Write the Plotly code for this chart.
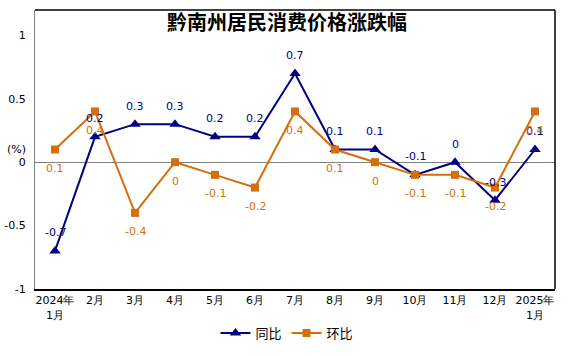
import plotly.graph_objects as go

categories = ["2024年<br>1月", "2月", "3月", "4月", "5月", "6月", "7月", "8月", "9月", "10月", "11月", "12月", "2025年<br>1月"]
tongbi = [-0.7, 0.2, 0.3, 0.3, 0.2, 0.2, 0.7, 0.1, 0.1, -0.1, 0, -0.3, 0.1]
huanbi = [0.1, 0.4, -0.4, 0, -0.1, -0.2, 0.4, 0.1, 0, -0.1, -0.1, -0.2, 0.4]
y_ticks = [-1, -0.5, 0, 0.5, 1]
y_ticklabels = ["-1", "-0.5", "0", "0.5", "1"]

BLUE = "#000080"
ORANGE = "#D46F0C"
FONT = "DejaVu Sans"

fig = go.Figure()
fig.add_trace(go.Scatter(
    x=categories, y=tongbi, name="同比", mode="lines+markers",
    line=dict(color=BLUE, width=2),
    marker=dict(symbol="triangle-up", size=10, color=BLUE),
))
fig.add_trace(go.Scatter(
    x=categories, y=huanbi, name="环比", mode="lines+markers",
    line=dict(color=ORANGE, width=2),
    marker=dict(symbol="square", size=8, color=ORANGE),
))

def fmt(v):
    return "0" if v == 0 else ("%g" % v)

for c, v in zip(categories, tongbi):
    fig.add_annotation(x=c, y=v, text=fmt(v), showarrow=False, yshift=18,
                       font=dict(family=FONT, size=11, color=BLUE))
for c, v in zip(categories, huanbi):
    fig.add_annotation(x=c, y=v, text=fmt(v), showarrow=False, yshift=-19,
                       font=dict(family=FONT, size=11, color=ORANGE))

fig.add_annotation(text="<b>黔南州居民消费价格涨跌幅</b>", xref="paper", yref="paper",
                   x=0.485, y=1 - 12 / 279, showarrow=False, xanchor="center", yanchor="middle",
                   font=dict(family="Noto Sans CJK SC", size=20, color="#000000"))
fig.add_annotation(text="(%)", xref="paper", yref="y", x=-30 / 520, y=0.1,
                   xanchor="left", showarrow=False,
                   font=dict(family=FONT, size=11, color="#000000"))

# frame (top, right black)
fig.add_shape(type="line", xref="paper", yref="paper", x0=0, x1=1, y0=1, y1=1,
              line=dict(color="#000000", width=1.5))
fig.add_shape(type="line", xref="paper", yref="paper", x0=1, x1=1, y0=0, y1=1,
              line=dict(color="#000000", width=1.5))

fig.update_layout(
    width=574, height=356,
    margin=dict(l=35, r=19, t=10, b=67),
    paper_bgcolor="white", plot_bgcolor="white",
    showlegend=True,
    legend=dict(orientation="h", xref="container", x=0.5, xanchor="center",
                yref="container", y=1 - 333 / 356, yanchor="middle",
                font=dict(family="Noto Sans CJK SC", size=13, color="#000000"),
                tracegroupgap=0),
    font=dict(family=FONT, size=11, color="#000000"),
)
fig.update_xaxes(
    type="category", range=[-0.5, 12.5], showgrid=False, automargin=False,
    showline=True, linecolor="#000000", linewidth=2, mirror=False,
    ticks="", tickfont=dict(family=FONT, size=11, color="#000000"),
    zeroline=False,
)
fig.update_yaxes(
    range=[-1, 1.2], tickvals=y_ticks, ticktext=y_ticklabels, showgrid=False,
    automargin=False,
    showline=True, linecolor="#808080", linewidth=1,
    zeroline=True, zerolinecolor="#808080", zerolinewidth=1,
    ticks="", ticklabelstandoff=6,
    tickfont=dict(family=FONT, size=11, color="#000000"),
)

fig.write_html("out.html", config={"displayModeBar": False},
               post_script="document.body.style.margin='0';")
